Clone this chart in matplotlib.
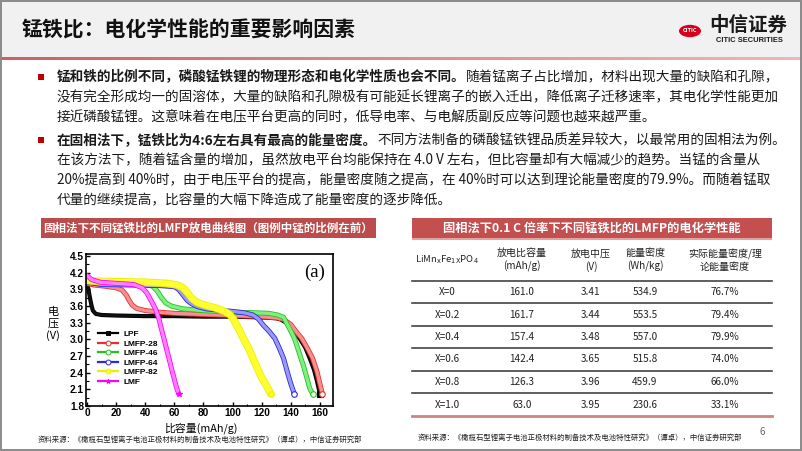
import numpy as np
import matplotlib
matplotlib.use("Agg")
import matplotlib.pyplot as plt
import matplotlib.patheffects as pe
from matplotlib.patches import Rectangle, Circle
from matplotlib.lines import Line2D

plt.rcParams["font.family"] = ["Noto Sans CJK SC", "DejaVu Sans"]

# ---- data: discharge curves (capacity mAh/g, voltage V) ----
lpf_cap = [0, 1, 2, 3, 4, 6, 10, 20, 40, 60, 80, 100, 115, 125, 130, 133, 137, 141, 146, 150, 153, 156, 158, 160]
lpf_v = [4.0, 3.9, 3.75, 3.62, 3.52, 3.46, 3.44, 3.43, 3.42, 3.42, 3.41, 3.41, 3.40, 3.39, 3.38, 3.36, 3.3, 3.2,
         3.02, 2.85, 2.66, 2.45, 2.25, 2.02]

lmfp28_cap = [0, 5, 12, 20, 24, 27, 29, 31, 34, 40, 50, 60, 80, 100, 120, 130, 135, 140, 144, 147.5, 151, 155,
              158, 160, 161.7]
lmfp28_v = [4.01, 3.98, 3.96, 3.93, 3.89, 3.8, 3.7, 3.62, 3.56, 3.52, 3.49, 3.47, 3.45, 3.43, 3.41, 3.39, 3.36,
            3.27, 3.13, 3.02, 2.86, 2.66, 2.42, 2.2, 2.02]

lmfp46_cap = [0, 10, 25, 40, 45, 48, 51, 54, 58, 66, 80, 100, 115, 125, 131, 135, 137, 140, 142.5, 145, 147, 149,
              151, 153, 155]
lmfp46_v = [4.03, 4.0, 4.0, 3.99, 3.96, 3.88, 3.76, 3.66, 3.6, 3.55, 3.52, 3.49, 3.48, 3.47, 3.44, 3.4, 3.3, 3.15,
            3.02, 2.82, 2.66, 2.5, 2.31, 2.12, 2.02]

lmfp64_cap = [0, 10, 30, 50, 60, 63, 66, 69, 72, 76, 82, 90, 98, 108, 114, 117.7, 121, 125, 129, 132, 135, 138,
              140, 142.4]
lmfp64_v = [4.03, 3.99, 3.98, 3.97, 3.95, 3.9, 3.8, 3.7, 3.64, 3.59, 3.55, 3.53, 3.51, 3.48, 3.44, 3.37, 3.26,
            3.15, 3.02, 2.85, 2.66, 2.38, 2.2, 2.02]

lmfp82_cap = [0, 5, 20, 40, 55, 62, 66, 69, 72, 76, 82, 89, 95, 98, 100.5, 104, 107.4, 111, 114, 117, 120, 123,
              126.3]
lmfp82_v = [4.06, 4.05, 4.04, 4.03, 4.01, 3.98, 3.93, 3.84, 3.74, 3.66, 3.61, 3.56, 3.5, 3.45, 3.37, 3.2, 3.02,
            2.84, 2.66, 2.48, 2.31, 2.18, 2.02]

lmf_cap = [0, 3, 9, 20, 32, 38, 41, 44, 47, 49.4, 51, 52.8, 54.5, 56.3, 58, 59.7, 61.3, 63]
lmf_v = [4.15, 4.08, 4.03, 4.01, 3.99, 3.93, 3.84, 3.7, 3.55, 3.37, 3.2, 3.02, 2.84, 2.66, 2.48, 2.31, 2.15, 2.02]

x_ticks = [0, 20, 40, 60, 80, 100, 120, 140, 160]
y_ticks = [1.8, 2.1, 2.4, 2.7, 3.0, 3.3, 3.6, 3.9, 4.2, 4.5]

# ---- data: table ----
tbl_header = [r"LiMn$_\mathrm{x}$Fe$_\mathrm{1X}$PO$_\mathrm{4}$", "放电比容量\n(mAh/g)", "放电中压\n(V)",
              "能量密度\n(Wh/kg)", "实际能量密度/理\n论能量密度"]
tbl_x = ["X=0", "X=0.2", "X=0.4", "X=0.6", "X=0.8", "X=1.0"]
tbl_cap = ["161.0", "161.7", "157.4", "142.4", "126.3", "63.0"]
tbl_volt = ["3.41", "3.44", "3.48", "3.65", "3.96", "3.95"]
tbl_energy = ["534.9", "553.5", "557.0", "515.8", "459.9", "230.6"]
tbl_ratio = ["76.7%", "79.4%", "79.9%", "74.0%", "66.0%", "33.1%"]

title = "锰铁比：电化学性能的重要影响因素"
para1 = [
    [("锰和铁的比例不同，磷酸锰铁锂的物理形态和电化学性质也会不同。", "bold"),
     ("随着锰离子占比增加，材料出现大量的缺陷和孔隙，", "normal")],
    [("没有完全形成均一的固溶体，大量的缺陷和孔隙极有可能延长锂离子的嵌入迁出，降低离子迁移速率，其电化学性能更加", "normal")],
    [("接近磷酸锰锂。这意味着在电压平台更高的同时，低导电率、与电解质副反应等问题也越来越严重。", "normal")],
]
para2 = [
    [("在固相法下，锰铁比为4:6左右具有最高的能量密度。", "bold"),
     ("不同方法制备的磷酸锰铁锂品质差异较大，以最常用的固相法为例。", "normal")],
    [("在该方法下，随着锰含量的增加，虽然放电平台均能保持在 4.0 V 左右，但比容量却有大幅减少的趋势。当锰的含量从", "normal")],
    [("20%提高到 40%时，由于电压平台的提高，能量密度随之提高，在 40%时可以达到理论能量密度的79.9%。而随着锰取", "normal")],
    [("代量的继续提高，比容量的大幅下降造成了能量密度的逐步降低。", "normal")],
]
source = "资料来源：《橄榄石型锂离子电池正极材料的制备技术及电池特性研究》（谭卓），中信证券研究部"

W, H = 802, 451


def fx(x):
    return x / W


def fy(y):
    return 1 - y / H


def rect(x0, y0, x1, y1, **kw):
    r = Rectangle((fx(x0), fy(y1)), (x1 - x0) / W, (y1 - y0) / H, transform=fig.transFigure, **kw)
    fig.add_artist(r)
    return r


def hline(x0, x1, y, **kw):
    fig.add_artist(Line2D([fx(x0), fx(x1)], [fy(y), fy(y)], transform=fig.transFigure, **kw))


fig = plt.figure(figsize=(8.02, 4.51), dpi=100)
fig.patch.set_facecolor("white")
renderer = fig.canvas.get_renderer()

# header
rect(0, 0, 802, 57, facecolor="#f1f1f1", edgecolor="none")
grad = fig.add_axes([0, fy(60), 1, 3 / H])
g = np.linspace(0, 1, 256)
c0 = np.array([0.80, 0.38, 0.39])
c1 = np.array([0.93, 0.72, 0.72])
grad.imshow((c0[None, :] * (1 - g[:, None]) + c1[None, :] * g[:, None])[None, :, :], aspect="auto")
grad.axis("off")
fig.text(fx(22), fy(30), title, fontsize=15, fontweight="bold", color="#111111", va="center")

# logo
fig.add_artist(Circle((fx(690), fy(31)), 11 / W, transform=fig.transFigure, facecolor="#d6001c",
                      edgecolor="none"))
fig.text(fx(690), fy(31), "CITIC", fontsize=4, fontweight="bold", color="white", ha="center", va="center")
fig.text(fx(748), fy(25), "中信证券", fontsize=14, fontweight="bold", color="#1a1a1a", ha="center", va="center")
fig.text(fx(749), fy(41), "CITIC SECURITIES", fontsize=5.4, fontweight="bold", color="#1a1a1a", ha="center",
         va="center", family="Liberation Sans")

# body text
def rich_line(x, y, parts, size=9.8):
    for txt, weight in parts:
        t = fig.text(fx(x), fy(y), txt, fontsize=size, fontweight=weight, color="#1a1a1a", va="center", ha="left")
        bb = t.get_window_extent(renderer)
        x = bb.x1


for lines, y0, in [(para1, 77), (para2, 140)]:
    rect(38, y0 - 3, 44, y0 + 3, facecolor="#c00000", edgecolor="none")
    for i, parts in enumerate(lines):
        rich_line(57, y0 + i * 20, parts)

# left title box
rect(41, 218, 376, 238, facecolor="#bc4b4b", edgecolor="none")
fig.text(fx(208), fy(228), "固相法下不同锰铁比的LMFP放电曲线图（图例中锰的比例在前）", fontsize=8.3,
         fontweight="bold", color="white", ha="center", va="center")

# chart
ax = fig.add_axes([fx(86), fy(406), 247 / W, (406 - 254.5) / H])
series = [
    ("LPF", lpf_cap, lpf_v, "#111111", "#000000", 1.8, "s", "#000000"),
    ("LMFP-28", lmfp28_cap, lmfp28_v, "#f59090", "#e83030", 2.4, "o", "white"),
    ("LMFP-46", lmfp46_cap, lmfp46_v, "#80ee80", "#22c422", 2.4, "o", "white"),
    ("LMFP-64", lmfp64_cap, lmfp64_v, "#9a9af5", "#2a2ae0", 2.4, "o", "white"),
    ("LMFP-82", lmfp82_cap, lmfp82_v, "#ffff30", "#eeee00", 4.2, "o", "#ffff30"),
    ("LMF", lmf_cap, lmf_v, "#ff80ff", "#ff00ff", 2.4, "*", "#ff00ff"),
]
handles = []
for name, xs, ys, col, edge, lw, mk, mfc in series:
    ax.plot(xs, ys, color=col, lw=lw, solid_capstyle="round",
            path_effects=[pe.Stroke(linewidth=lw + 1.2, foreground=edge), pe.Normal()])
    ax.plot(xs[-1], ys[-1], marker=mk, markersize=4, markerfacecolor=mfc, markeredgecolor=edge,
            markeredgewidth=0.8, linestyle="none")
    handles.append(Line2D([], [], color=edge, lw=1.6, marker=mk, markersize=3.5, markerfacecolor=mfc,
                          markeredgecolor=edge, markeredgewidth=0.7, label=name))

ax.set_xlim(-0.7, 169)
ax.set_ylim(1.8, 4.53)
ax.set_xticks(x_ticks)
ax.set_yticks(y_ticks)
ax.set_xticks(np.arange(10, 170, 20), minor=True)
ax.set_yticks(np.arange(1.95, 4.5, 0.3), minor=True)
ax.tick_params(direction="in", length=3, width=1, labelsize=7.3, pad=1.5)
ax.tick_params(which="minor", direction="in", length=1.8, width=0.8)
for lab in ax.get_xticklabels() + ax.get_yticklabels():
    lab.set_fontweight("bold")
    lab.set_family("Liberation Sans")
for sp in ax.spines.values():
    sp.set_linewidth(1.2)
ax.text(0.925, 0.885, "(a)", transform=ax.transAxes, fontsize=13.5, family="Liberation Serif", ha="center",
        va="center")
ax.legend(handles=handles, loc="lower left", bbox_to_anchor=(0.03, 0.1), frameon=False, handlelength=2.4,
          labelspacing=0.2, handletextpad=0.6, borderpad=0.1,
          prop={"family": "Liberation Sans", "weight": "bold", "size": 6})

fig.text(fx(53), fy(324), "电\n压\n(V)", fontsize=8, ha="center", va="center", linespacing=1.15)
fig.text(fx(201), fy(428.5), "比容量(mAh/g)", fontsize=7.8, ha="center", va="center")
fig.text(fx(38), fy(440), source, fontsize=5.3, ha="left", va="center", color="#222222")

# right table
rect(412, 218, 772, 238, facecolor="#c44f4f", edgecolor="none")
rect(412, 238, 772, 240, facecolor="#e3a3a3", edgecolor="none")
fig.text(fx(592), fy(228), "固相法下0.1 C 倍率下不同锰铁比的LMFP的电化学性能", fontsize=8.8, fontweight="bold",
         color="white", ha="center", va="center")
col_x = [447, 522, 591, 645, 725]
for cx, h in zip(col_x, tbl_header):
    fig.text(fx(cx), fy(260), h, fontsize=7.2 if cx != col_x[0] else 6.8, ha="center", va="center",
             linespacing=1.25, color="#222222")
hline(412, 772, 281, color="#333333", lw=1.1)
row_y = [292, 314.5, 337, 359.5, 382, 404.5]
for i, ry in enumerate(row_y):
    vals = [tbl_x[i], tbl_cap[i], tbl_volt[i], tbl_energy[i], tbl_ratio[i]]
    for cx, v in zip(col_x, vals):
        fig.text(fx(cx), fy(ry), v, fontsize=7.2, ha="center", va="center", color="#222222")
    if i < len(row_y) - 1:
        hline(412, 772, ry + 11.2, color="#333333", lw=1.1)
hline(412, 772, 416, color="#c98585", lw=2)
fig.text(fx(418), fy(438), source, fontsize=5.3, ha="left", va="center", color="#222222")
fig.text(fx(762), fy(432), "6", fontsize=7, ha="center", va="center", color="#666666")

# slide border
rect(0.7, 0.7, 801.3, 450.3, facecolor="none", edgecolor="#8a8a8a", lw=1.4)

fig.savefig("out.png", dpi=100)
